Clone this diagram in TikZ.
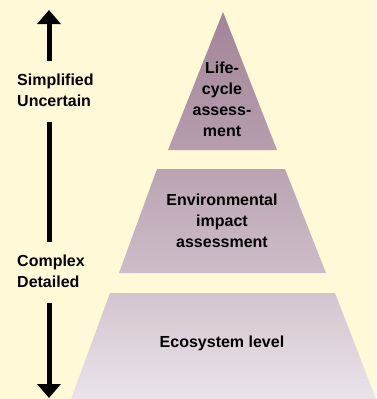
\documentclass[tikz,border=0pt]{standalone}
\usepackage{fontspec}
\setmainfont{Liberation Sans}
\usetikzlibrary{arrows.meta}
\definecolor{paper}{RGB}{255,249,216}
\definecolor{triTop}{RGB}{162,132,152}
\definecolor{triBot}{RGB}{182,158,174}
\definecolor{midTop}{RGB}{186,164,179}
\definecolor{midBot}{RGB}{205,189,200}
\definecolor{lowTop}{RGB}{211,197,207}
\definecolor{lowBot}{RGB}{234,227,234}
\tikzset{
  lbl/.style={font=\bfseries\fontsize{16}{21}\selectfont, text=black, inner sep=0pt},
  sidelbl/.style={lbl, align=left, anchor=west},
  tierlbl/.style={lbl, align=center},
  axis/.style={line width=5pt, black},
  axishead/.style={axis, -{Triangle[length=14pt,width=23pt]}},
}
\begin{document}
\begin{tikzpicture}[x=1pt, y=-1pt]
  % canvas
  \fill[paper] (0,0) rectangle (376,399);
  \useasboundingbox (0,0) rectangle (376,399);

  % pyramid tiers
  \shade[top color=triTop, bottom color=triBot]
    (223,12) -- (277,150) -- (168,150) -- cycle;
  \shade[top color=midTop, bottom color=midBot]
    (157,169) -- (285,169) -- (326,273) -- (119,273) -- cycle;
  \shade[top color=lowTop, bottom color=lowBot]
    (110,293) -- (335,293) -- (376,399) -- (71,399) -- cycle;

  % tier labels
  \node[tierlbl] (lca) at (222,99) {Life-\\cycle\\assess-\\ment};
  \node[tierlbl] (eia) at (222,220.5) {Environmental\\impact\\assessment};
  \node[tierlbl] (eco) at (222,343) {Ecosystem level};

  % side axis labels
  \node[sidelbl] (simple) at (17,90.5) {Simplified\\Uncertain};
  \node[sidelbl] (complex) at (17,271.5) {Complex\\Detailed};

  % axis end points
  \coordinate (uptip) at (49,10);
  \coordinate (s1) at (49,61);
  \coordinate (s2) at (49,122);
  \coordinate (c1) at (49,242);
  \coordinate (c2) at (49,303);
  \coordinate (downtip) at (49,398);

  % axis
  \draw[axishead] (s1) -- (uptip);
  \draw[axis] (s2) -- (c1);
  \draw[axishead] (c2) -- (downtip);
\end{tikzpicture}
\end{document}
